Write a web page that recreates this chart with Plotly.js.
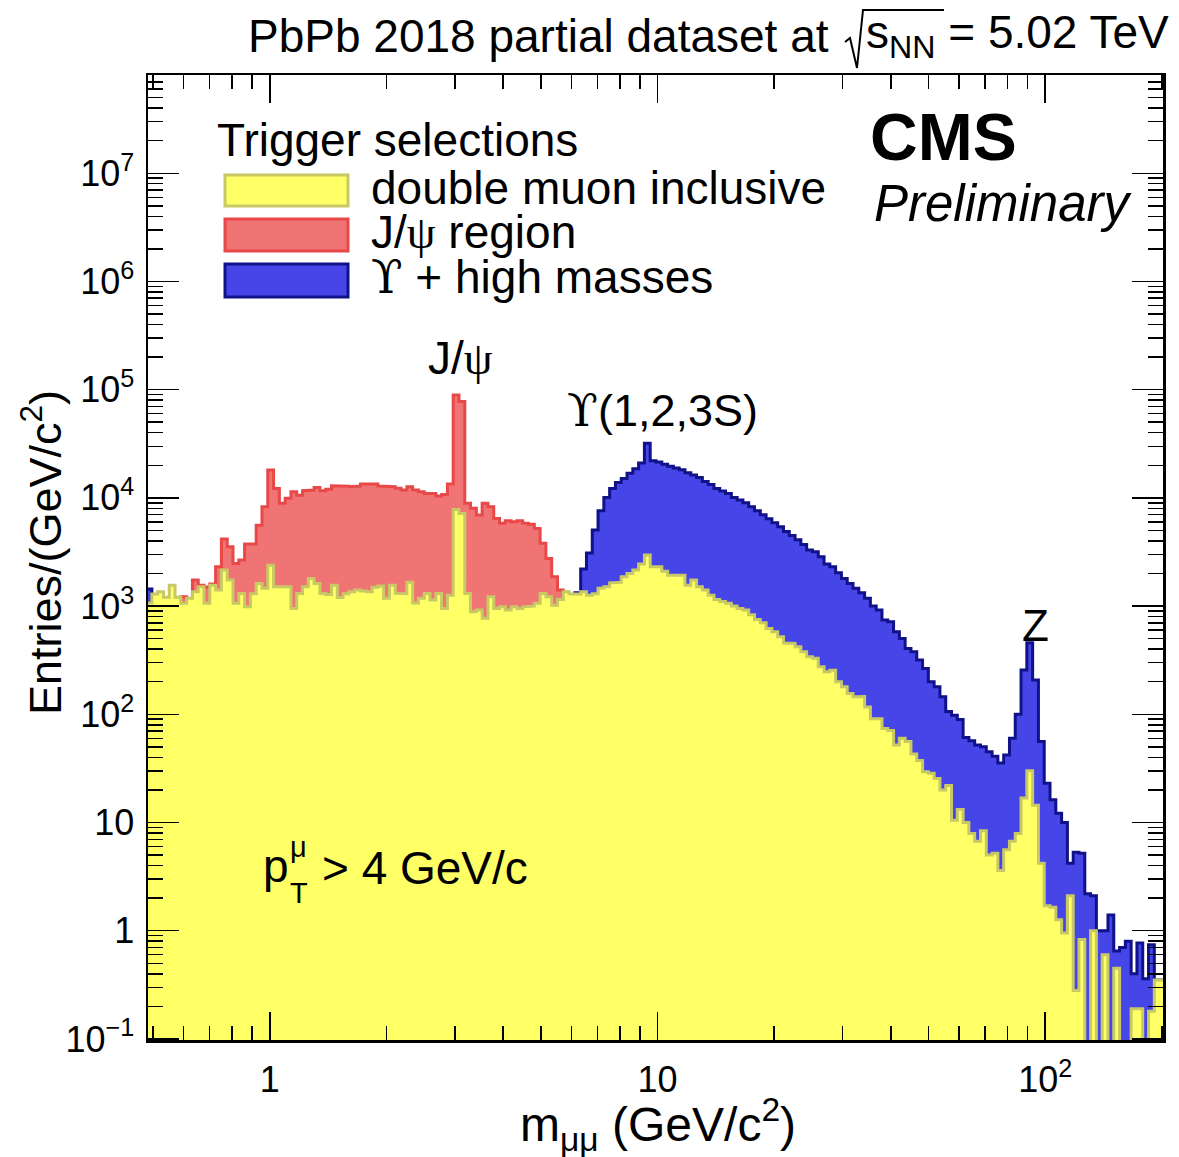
<!DOCTYPE html>
<html><head><meta charset="utf-8">
<script src="https://cdn.plot.ly/plotly-3.0.1.min.js"></script>
<style>body{margin:0;background:#fff}#chart{width:1179px;height:1157px}</style>
</head><body><div id="chart"></div>
<script>
// ---- histogram binning (log-uniform bins in dimuon mass, GeV/c^2) ----
const binLowEdge = 0.4798;
const binWidthDecades = 0.014944;

// ---- double muon inclusive (bins 0..175), entries/(GeV/c^2) ----
const yellowValues = [
1070,1290,1356,1210,1560,1210,1060,1180,1356,1510,
1060,1560,1405,2150,1740,1060,1310,985,1300,1620,
1460,2390,1510,1510,1510,950,1310,1510,1800,1620,
1310,1280,1560,1200,1300,1356,1405,1380,1356,1490,
1530,1180,1560,1310,1300,1660,1070,1180,1310,1140,
1310,950,1260,7820,7180,1310,885,918,770,1220,
950,985,918,985,950,985,1000,1060,1310,1220,
1020,1150,1356,1300,1290,1356,1260,1300,1460,1510,
1640,1660,1870,2000,2150,2450,2960,2310,2310,2100,
1930,1930,1930,1560,1740,1510,1405,1260,1150,1100,
1060,1000,950,918,830,750,700,622,580,520,
455,452,420,378,340,330,275,247,255,200,
180,156,145,146,117,91,91,74,71,52,
60,56,43,37.5,29.5,28.5,25.5,20,22,10.5,
13.2,10,7.9,6.7,8.4,5.0,5.2,3.6,5.6,6.7,
7.9,16.8,30,14.4,4.2,1.7,1.65,1.26,0.95,2.1,
0.28,0.83,0,1.0,0,0.6,0,0.45,0,0,
0.19,0.19,0,0.18,0.35,0.35];

// ---- J/psi region trigger (bins 6..73) ----
const redFirstBin = 6;
const redValues = [
1220,1150,1740,1560,1500,1600,2310,4160,3540,2480,
2660,3740,3740,5600,8280,18060,12200,8900,9900,11400,
10600,11650,11800,12500,11650,12000,12950,12750,12800,12700,
12850,13400,13400,13400,12850,12700,12700,12250,11800,12700,
11800,11400,11000,11000,10400,10750,13400,89100,77600,8900,
8000,6940,8900,8280,6460,5820,6140,6030,6140,5820,
5720,5220,3800,2760,1870,1410,1250,1150];

// ---- Upsilon + high masses trigger ----
const blueLowFirstBin = 0;
const blueLowValues = [1440];
const blueHighFirstBin = 73;
const blueHighValues = [
1250,1330,2200,3100,5050,7600,10100,12200,13900,15100,
16900,18600,21000,31900,22000,21500,20400,19600,18900,18200,
17100,16300,15400,14200,13300,12200,11600,11000,10100,9540,
9010,8280,7600,7000,6400,5900,5400,4900,4500,4100,
3700,3300,3180,2860,2450,2310,2030,1800,1620,1460,
1330,1180,1000,918,742,716,580,503,406,378,
317,265,200,180,145,106,98,89.5,61,57,
52,50,45,41,35.5,42,60,100,256,458,
207,56,23,16.2,12.2,10,4.2,5.3,5.2,2.2,
2.1,1.0,1.0,1.4,0.65,0.7,0.8,0.4,0.77,0.36,
0.74,0.35,0.35];

const xTickVals = [1, 10, 100];
const xTickText = ['1', '10', '10<sup>2</sup>'];
const yTickVals = [0.1, 1, 10, 100, 1e3, 1e4, 1e5, 1e6, 1e7];
const yTickText = ['10<sup>\u22121</sup>', '1', '10', '10<sup>2</sup>', '10<sup>3</sup>', '10<sup>4</sup>', '10<sup>5</sup>', '10<sup>6</sup>', '10<sup>7</sup>'];

// ---- helpers ----
const FLOOR = 1e-3; // empty bins drawn down to below the axis minimum
function edge(j) { return binLowEdge * Math.pow(10, j * binWidthDecades); }
function stepOutline(first, vals) {
  const xs = [edge(first)], ys = [FLOOR];
  for (let i = 0; i < vals.length; i++) {
    const v = vals[i] > 0 ? vals[i] : FLOOR;
    xs.push(edge(first + i), edge(first + i + 1));
    ys.push(v, v);
  }
  xs.push(edge(first + vals.length)); ys.push(FLOOR);
  return { x: xs, y: ys };
}
function histTrace(first, vals, fillcolor, linecolor) {
  const o = stepOutline(first, vals);
  return { type: 'scatter', mode: 'lines', x: o.x, y: o.y, fill: 'toself',
    fillcolor: fillcolor, line: { color: linecolor, width: 3 }, hoverinfo: 'skip', showlegend: false };
}
const YEL = '#ffff66', YEL_L = '#c8c864';
const RED = '#f07474', RED_L = '#e84848';
const BLU = '#4646e8', BLU_L = '#11118a';

const traces = [
  histTrace(blueLowFirstBin, blueLowValues, BLU, BLU_L),
  histTrace(blueHighFirstBin, blueHighValues, BLU, BLU_L),
  histTrace(redFirstBin, redValues, RED, RED_L),
  histTrace(0, yellowValues, YEL, YEL_L)
];

// minor tick positions
const xMinor = [];
[0.1, 1, 10, 100].forEach(d => { for (let k = 2; k <= 9; k++) xMinor.push(k * d); });
const yMinor = [];
for (let e = -1; e <= 7; e++) for (let k = 2; k <= 9; k++) yMinor.push(k * Math.pow(10, e));

// pixel -> paper helpers for text placement
const L = 148, R = 1163, T = 75, B = 1040;
const px = x => (x - L) / (R - L);
const py = y => (B - y) / (B - T);
const FONT = 'Liberation Sans, Arial, Helvetica, DejaVu Sans, sans-serif';
const UPS = '<span style="font-family:DejaVu Serif">\u03d2</span>';
const PSI = '<span style="font-family:Liberation Serif, DejaVu Serif">\u03c8</span>';

function ann(text, x, y, size, xanchor, extra) {
  return Object.assign({ text: text, xref: 'paper', yref: 'paper', x: px(x), y: py(y),
    xanchor: xanchor || 'left', yanchor: 'middle', showarrow: false,
    font: { family: FONT, size: size, color: 'black' } }, extra || {});
}

const annotations = [
  ann('PbPb 2018 partial dataset at', 831, 36, 46, 'right'),
  ann('s<sub>NN</sub> = 5.02 TeV', 864, 36, 46, 'left'),
  ann('Trigger selections', 215, 140, 46, 'left'),
  ann('double muon inclusive', 369, 188, 46, 'left'),
  ann('J/' + PSI + ' region', 369, 232, 46, 'left'),
  ann(UPS + ' + high masses', 369, 277, 46, 'left'),
  ann('<b>CMS</b>', 868, 137, 66, 'left'),
  ann('<i>Preliminary</i>', 872, 203, 51, 'left'),
  ann('J/' + PSI, 460, 358, 46, 'center'),
  ann(UPS + '(1,2,3S)', 662, 410, 45, 'center'),
  ann('Z', 1035, 625, 44, 'center'),
  ann('p', 261, 866, 46, 'left'),
  ann('\u03bc', 288, 847, 29, 'left'),
  ann('T', 288, 893, 29, 'left'),
  ann('> 4 GeV/c', 320, 868, 46, 'left'),
  ann('m<sub>\u03bc\u03bc</sub> (GeV/c<sup>2</sup>)', 798, 1124, 48, 'right'),
  ann('Entries/(GeV/c<sup>2</sup>)', 42, 553, 45, 'center', { textangle: -90 })
];

function box(y0, y1, fill, line) {
  return { type: 'rect', xref: 'paper', yref: 'paper', x0: px(225), x1: px(348), y0: py(y1), y1: py(y0),
    fillcolor: fill, line: { color: line, width: 3 } };
}
const shapes = [
  box(175, 206, YEL, YEL_L),
  box(219, 251, RED, RED_L),
  box(264, 297, BLU, BLU_L),
  { type: 'path', xref: 'paper', yref: 'paper',
    path: 'M ' + px(845) + ',' + py(42) + ' L ' + px(850) + ',' + py(38) + ' L ' + px(857) + ',' + py(68) +
          ' L ' + px(863) + ',' + py(10) + ' L ' + px(944) + ',' + py(10),
    line: { color: 'black', width: 2 } }
];

const axisCommon = {
  type: 'log', tickmode: 'array', ticks: 'inside', tickcolor: 'black', tickwidth: 1.5,
  mirror: 'allticks', showline: true, linecolor: 'black', linewidth: 2.5,
  showgrid: false, zeroline: false, tickfont: { family: FONT, size: 36, color: 'black' }
};

const layout = {
  width: 1179, height: 1157,
  margin: { l: L, r: 1179 - R, t: T, b: 1157 - B },
  paper_bgcolor: 'white', plot_bgcolor: 'white',
  showlegend: false,
  xaxis: Object.assign({}, axisCommon, {
    range: [-0.3140, 2.3037], tickvals: xTickVals, ticktext: xTickText, ticklen: 28,
    ticklabelstandoff: 6,
    minor: { tickmode: 'array', tickvals: xMinor, ticks: 'inside', ticklen: 14, tickwidth: 1.5, tickcolor: 'black', showgrid: false }
  }),
  yaxis: Object.assign({}, axisCommon, {
    range: [-1.01, 7.908], tickvals: yTickVals, ticktext: yTickText, ticklen: 31,
    ticklabelstandoff: 4,
    minor: { tickmode: 'array', tickvals: yMinor, ticks: 'inside', ticklen: 15, tickwidth: 1.5, tickcolor: 'black', showgrid: false }
  }),
  annotations: annotations,
  shapes: shapes
};

Plotly.newPlot('chart', traces, layout, { staticPlot: true, displayModeBar: false });
</script>
</body></html>
